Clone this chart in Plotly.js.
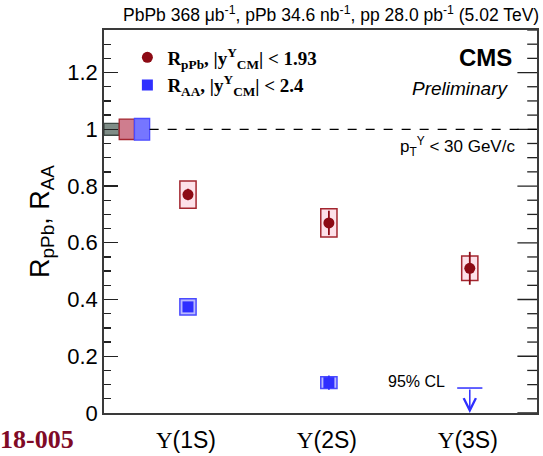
<!DOCTYPE html>
<html>
<head>
<meta charset="utf-8">
<script src="https://cdn.plot.ly/plotly-3.0.1.min.js"></script>
<style>html,body{margin:0;padding:0;background:#fff;}#chart{width:543px;height:456px;}</style>
</head>
<body>
<div id="chart"></div>
<script>
// ---- data ----
const categories = ['Υ(1S)', 'Υ(2S)', 'Υ(3S)'];
const catIndex = [0, 1, 2];

const rpPb = [0.770, 0.670, 0.510];
const rpPbStat = [0.020, 0.043, 0.058];
const rpPbSyst = [0.048, 0.050, 0.043];

const rAAIndex = [0, 1];
const rAA = [0.374, 0.107];
const rAAStat = [0.008, 0.025];
const rAASyst = [0.029, 0.021];

const rAA3SIndex = [2];
const rAA3SLimit = [0.088];   // 95% CL upper limit

// global uncertainties around 1: pp, pPb, PbPb
const globalNames = ['pp', 'pPb', 'PbPb'];
const globalUnc = [0.021, 0.036, 0.038];

// ---- styling ----
const xRange = [-0.596, 2.477];
const yRange = [0, 1.35];
const boxW = 0.115;
const globW = 0.108;
const globX = [xRange[0] + globW * 0.5, xRange[0] + globW * 1.5, xRange[0] + globW * 2.5];

const red = '#8c0a14', redEdge = '#a3262f', redFill = '#fde1e9';
const blue = '#2f2fff', blueEdge = '#4a4aff', blueFill = '#b9b9ff';

// right-hand frame ticks (mirror of the y axis ticks)
const majorTicks = [], minorTicks = [];
for (let k = 0; k * 0.05 <= yRange[1] + 1e-9; k++) {
  (k % 4 === 0 ? majorTicks : minorTicks).push(+(k * 0.05).toFixed(2));
}

const traces = [
  // systematic boxes pPb
  {type: 'bar', x: catIndex, y: rpPbSyst.map(s => 2 * s), base: rpPb.map((v, i) => v - rpPbSyst[i]),
   width: boxW, marker: {color: redFill, line: {color: redEdge, width: 1.5}}, showlegend: false, hoverinfo: 'skip'},
  // systematic boxes PbPb
  {type: 'bar', x: rAAIndex, y: rAASyst.map(s => 2 * s), base: rAA.map((v, i) => v - rAASyst[i]),
   width: boxW, marker: {color: blueFill, line: {color: blueEdge, width: 1.5}}, showlegend: false, hoverinfo: 'skip'},
  // global boxes at unity
  {type: 'bar', x: globX, y: globalUnc.map(s => 2 * s), base: globalUnc.map(s => 1 - s),
   width: globW, text: globalNames, textposition: 'none',
   marker: {color: ['#7f8d87', '#cf7d8e', '#7676ff'], line: {color: ['#3f4a45', '#a3262f', '#4a4aff'], width: 1.3}},
   showlegend: false, hoverinfo: 'skip'},
  // points
  {type: 'scatter', mode: 'markers', x: catIndex, y: rpPb,
   name: 'R<sub>pPb</sub>, |y<sup>Υ</sup><sub>CM</sub>| < 1.93',
   error_y: {type: 'data', array: rpPbStat, color: red, thickness: 1.8, width: 0},
   marker: {symbol: 'circle', size: 11, color: red}},
  {type: 'scatter', mode: 'markers', x: rAAIndex, y: rAA,
   name: 'R<sub>AA</sub>, |y<sup>Υ</sup><sub>CM</sub>| < 2.4',
   error_y: {type: 'data', array: rAAStat, color: blue, thickness: 1.8, width: 0},
   marker: {symbol: 'square', size: 11, color: blue}},
  // upper limit bar
  {type: 'scatter', mode: 'markers', x: rAA3SIndex, y: rAA3SLimit, showlegend: false,
   marker: {symbol: 'line-ew', size: 18, color: blue, line: {color: blue, width: 1.5}}, cliponaxis: false},
  // mirrored ticks on the right frame edge (half of each marker is clipped by the plot area)
  {type: 'scatter', mode: 'markers', x: majorTicks.map(() => xRange[1]), y: majorTicks, showlegend: false,
   hoverinfo: 'skip', cliponaxis: true, marker: {symbol: 'line-ew', size: 28, color: '#222', line: {color: '#222', width: 1.3}}},
  {type: 'scatter', mode: 'markers', x: minorTicks.map(() => xRange[1]), y: minorTicks, showlegend: false,
   hoverinfo: 'skip', cliponaxis: true, marker: {symbol: 'line-ew', size: 14, color: '#222', line: {color: '#222', width: 1.3}}}
];

const annotations = [
  {xref: 'paper', yref: 'paper', x: 1.01, y: 1.042, xanchor: 'right', yanchor: 'middle', showarrow: false,
   text: 'PbPb 368 μb<sup>-1</sup>, pPb 34.6 nb<sup>-1</sup>, pp 28.0 pb<sup>-1</sup> (5.02 TeV)',
   font: {family: 'Liberation Sans, Arial', size: 17.5, color: '#000'}},
  {xref: 'paper', yref: 'paper', x: 0.947, y: 0.927, xanchor: 'right', yanchor: 'middle', showarrow: false,
   text: '<b>CMS</b>', font: {family: 'Liberation Sans, Arial', size: 24, color: '#000'}},
  {xref: 'paper', yref: 'paper', x: 0.94, y: 0.846, xanchor: 'right', yanchor: 'middle', showarrow: false,
   text: '<i>Preliminary</i>', font: {family: 'Liberation Sans, Arial', size: 19, color: '#000'}},
  {xref: 'paper', yref: 'paper', x: 0.954, y: 0.695, xanchor: 'right', yanchor: 'middle', showarrow: false,
   text: 'p<sub>T</sub><sup>Υ</sup> < 30 GeV/c', font: {family: 'Liberation Sans, Arial', size: 17, color: '#000'}},
  {xref: 'paper', yref: 'paper', x: 0.792, y: 0.082, xanchor: 'right', yanchor: 'middle', showarrow: false,
   text: '95% CL', font: {family: 'Liberation Sans, Arial', size: 16, color: '#000'}},
  {xref: 'paper', yref: 'paper', x: -0.245, y: -0.068, xanchor: 'left', yanchor: 'middle', showarrow: false,
   text: '<b>18-005</b>', font: {family: 'Liberation Serif, Times New Roman', size: 26, color: '#7f0a26'}},
  // upper-limit arrow (from the limit down to zero)
  {x: rAA3SIndex[0], y: 0, ax: rAA3SIndex[0], ay: rAA3SLimit[0], xref: 'x', yref: 'y', axref: 'x', ayref: 'y',
   text: '', showarrow: true, arrowhead: 5, arrowsize: 1.6, arrowwidth: 1.5, arrowcolor: blue, standoff: 0}
];

const layout = {
  width: 543, height: 456,
  margin: {l: 104, r: 6, t: 30, b: 43, pad: 0},
  paper_bgcolor: '#fff', plot_bgcolor: '#fff',
  barmode: 'overlay', bargap: 0,
  showlegend: true,
  legend: {x: 0.054, y: 0.978, xanchor: 'left', yanchor: 'top', bgcolor: 'rgba(0,0,0,0)',
           font: {family: 'Liberation Serif, Times New Roman', size: 19, color: '#000', weight: 'bold'},
           tracegroupgap: 0, itemwidth: 30},
  xaxis: {range: xRange, tickvals: catIndex,
          ticktext: categories.map(c => '<span style="font-family:Liberation Serif">' + c[0] + '</span>' + c.slice(1)),
          ticks: '', showgrid: false, zeroline: false, showline: true, mirror: true,
          linecolor: '#3a3a3a', linewidth: 1.8, ticklabelstandoff: 6,
          tickfont: {family: 'Liberation Sans, Arial', size: 23, color: '#000'}, ticklabelshift: -2},
  yaxis: {range: yRange, dtick: 0.2, tick0: 0, ticks: 'inside', ticklen: 14, tickwidth: 1.3, tickcolor: '#222',
          minor: {dtick: 0.05, ticks: 'inside', ticklen: 7, tickwidth: 1.3, tickcolor: '#222'},
          showgrid: false, zeroline: false, showline: true, mirror: true,
          linecolor: '#3a3a3a', linewidth: 1.8,
          tickfont: {family: 'Liberation Sans, Arial', size: 22, color: '#000'},
          title: {text: 'R<sub>pPb</sub>, R<sub>AA</sub>', standoff: 10,
                  font: {family: 'Liberation Sans, Arial', size: 27, color: '#000'}}},
  shapes: [
    {type: 'line', xref: 'x', yref: 'y', x0: globX[2] + globW / 2, x1: xRange[1], y0: 1, y1: 1,
     line: {color: '#000', width: 1.3, dash: 'dash'}}
  ],
  annotations: annotations
};

Plotly.newPlot('chart', traces, layout, {staticPlot: true});
</script>
</body>
</html>
